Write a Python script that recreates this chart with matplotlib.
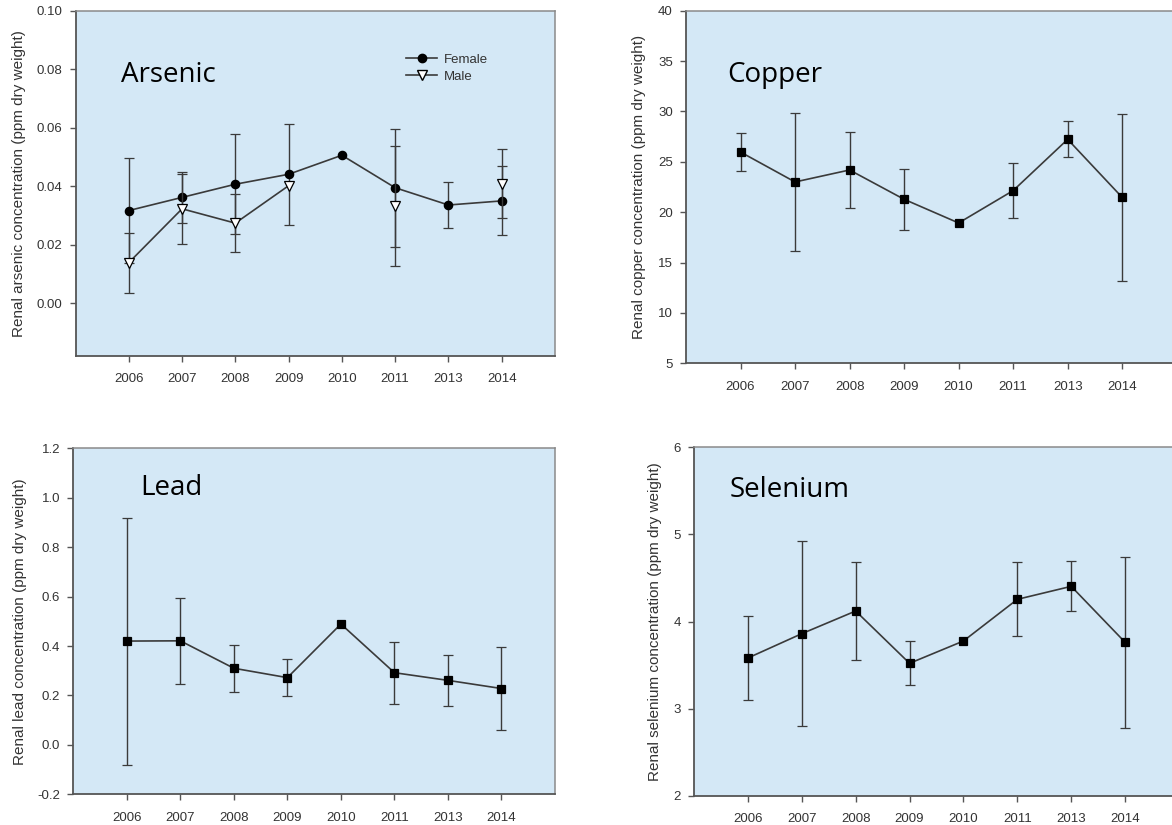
import numpy as np
import matplotlib
matplotlib.use("Agg")
import matplotlib.pyplot as plt
from matplotlib.lines import Line2D

# ---------------- data ----------------
years = ["2006", "2007", "2008", "2009", "2010", "2011", "2013", "2014"]

arsenic_female = [0.0317, 0.0362, 0.0407, 0.0441, 0.0506, 0.0395, 0.0336, 0.0350]
arsenic_female_err = [0.0180, 0.0086, 0.0171, 0.0172, np.nan, 0.0201, 0.0079, 0.0118]
arsenic_male = [0.0139, 0.0323, 0.0274, 0.0402, np.nan, 0.0332, np.nan, 0.0408]
arsenic_male_err = [0.0103, 0.0120, 0.0099, np.nan, np.nan, 0.0205, np.nan, 0.0118]

copper = [25.97, 23.00, 24.19, 21.28, 18.93, 22.14, 27.23, 21.47]
copper_err = [1.86, 6.88, 3.78, 3.03, np.nan, 2.73, 1.78, 8.30]

lead = [0.420, 0.421, 0.310, 0.272, 0.489, 0.292, 0.261, 0.228]
lead_err = [0.500, 0.174, 0.096, 0.076, np.nan, 0.126, 0.102, 0.168]

selenium = [3.583, 3.862, 4.122, 3.522, 3.778, 4.256, 4.405, 3.763]
selenium_err = [0.478, 1.063, 0.562, 0.252, np.nan, 0.426, 0.287, 0.980]

W, H = 1172, 825
fig = plt.figure(figsize=(W / 100, H / 100), dpi=100)
fig.patch.set_facecolor("white")

BG = "#d4e8f6"
DARK = "#333333"
TICKFONT = "Liberation Sans"
TITLEFONT = "Open Sans"

def px_axes(left, right, top, bottom):
    return [left / W, 1 - bottom / H, (right - left) / W, (bottom - top) / H]

x = np.arange(len(years))

def style_axes(ax, ylim, yticks, yfmt, ylabel, ylab_x, title, tx, ty):
    ax.set_facecolor(BG)
    ax.set_xlim(-1, 8)
    ax.set_ylim(*ylim)
    ax.set_xticks(x)
    ax.set_xticklabels(years)
    ax.set_yticks(yticks)
    ax.set_yticklabels([yfmt.format(v) for v in yticks])
    for lab in ax.get_xticklabels() + ax.get_yticklabels():
        lab.set_fontfamily(TICKFONT)
        lab.set_fontsize(9.5)
        lab.set_color(DARK)
    ax.tick_params(axis="x", direction="out", length=4.5, width=1.0,
                   color="#555555", pad=8, top=False)
    ax.tick_params(axis="y", direction="out", length=4.5, width=1.0,
                   color="#555555", pad=5, right=False)
    for side in ["left", "bottom"]:
        ax.spines[side].set_color("#555555")
        ax.spines[side].set_linewidth(1.3)
    for side in ["top", "right"]:
        ax.spines[side].set_color("#8a8a8a")
        ax.spines[side].set_linewidth(1.1)
    ax.set_ylabel(ylabel, fontfamily=TICKFONT, fontsize=11, color=DARK, va="center")
    ax.yaxis.set_label_coords(ylab_x, 0.5)
    ax.text(tx, ty, title, transform=ax.transAxes, fontfamily=TITLEFONT,
            fontsize=20, color="black", ha="left", va="baseline")

def series(ax, vals, errs, marker, ms, mfc, z):
    ax.errorbar(x, vals, yerr=errs, fmt="-", marker=marker, ms=ms,
                mfc=mfc, mec="black", mew=0.9, color="#3a3a3a", lw=1.2,
                ecolor="#3a3a3a", elinewidth=1.0, capsize=3.6, capthick=1.0,
                zorder=z)

# Arsenic
ax1 = fig.add_axes(px_axes(75.5, 555, 10.7, 356))
style_axes(ax1, (-0.018, 0.10), [0.00, 0.02, 0.04, 0.06, 0.08, 0.10], "{:.2f}",
           "Renal arsenic concentration (ppm dry weight)", -0.117,
           "Arsenic", 0.095, 0.793)
series(ax1, arsenic_female, arsenic_female_err, "o", 6.0, "black", 3)
series(ax1, arsenic_male, arsenic_male_err, "v", 6.5, "white", 4)
handles = [
    Line2D([], [], color="#3a3a3a", lw=1.2, marker="o", ms=6.0, mfc="black", mec="black"),
    Line2D([], [], color="#3a3a3a", lw=1.2, marker="v", ms=6.5, mfc="white", mec="black"),
]
leg = ax1.legend(handles, ["Female", "Male"], loc="upper left",
                 bbox_to_anchor=(406 / W, 1 - 53.5 / H), bbox_transform=fig.transFigure,
                 frameon=False, borderpad=0, borderaxespad=0, handlelength=2.35,
                 handletextpad=0.5, labelspacing=0.38,
                 prop={"family": TICKFONT, "size": 9.5})
for t in leg.get_texts():
    t.set_color(DARK)

# Copper
ax2 = fig.add_axes(px_axes(686, 1176.7, 10.7, 363.3))
style_axes(ax2, (5, 40), [5, 10, 15, 20, 25, 30, 35, 40], "{:d}",
           "Renal copper concentration (ppm dry weight)", -0.095,
           "Copper", 0.084, 0.798)
series(ax2, copper, copper_err, "s", 5.5, "black", 3)

# Lead
ax3 = fig.add_axes(px_axes(73.3, 555, 448.3, 794.3))
style_axes(ax3, (-0.2, 1.2), [-0.2, 0.0, 0.2, 0.4, 0.6, 0.8, 1.0, 1.2], "{:.1f}",
           "Renal lead concentration (ppm dry weight)", -0.111,
           "Lead", 0.138, 0.865)
series(ax3, lead, lead_err, "s", 5.5, "black", 3)

# Selenium
ax4 = fig.add_axes(px_axes(694, 1179, 447.3, 796))
style_axes(ax4, (2, 6), [2, 3, 4, 5, 6], "{:d}",
           "Renal selenium concentration (ppm dry weight)", -0.081,
           "Selenium", 0.073, 0.857)
series(ax4, selenium, selenium_err, "s", 5.5, "black", 3)

fig.savefig("out.png", dpi=100, facecolor="white")
